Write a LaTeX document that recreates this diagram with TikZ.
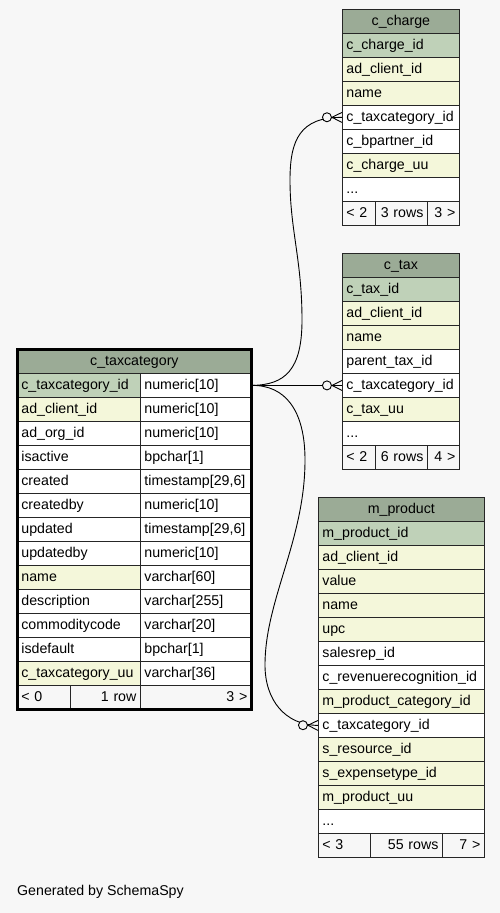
\documentclass[tikz,border=0pt]{standalone}
\usepackage{fontspec}
\setmainfont{Liberation Sans}
\usetikzlibrary{positioning, decorations.markings}

\definecolor{bg}{HTML}{F7F7F7}
\definecolor{hdr}{HTML}{9BAB96}
\definecolor{pk}{HTML}{BFD1B8}
\definecolor{ix}{HTML}{F4F7DA}
\colorlet{pl}{white}

\tikzset{
  cell/.style={draw=black!85, line width=0.8pt, anchor=north west,
    minimum height=24pt, inner xsep=4pt, inner ysep=0pt,
    text height=11pt, text depth=2pt, align=left,
    font=\fontsize{14.2}{16}\selectfont},
  head/.style={cell, fill=hdr, align=center},
  foot/.style={cell, fill=bg},
  fk/.style={draw=black, line width=0.9pt, postaction={decorate},
    decoration={markings, mark=at position -0.05pt with {
      \draw[line width=0.9pt] (0,5) -- (-10,0) -- (0,-5);
      \draw[line width=0.9pt, fill=bg] (-15,0) circle (4.5pt);
    }}}
}

\begin{document}
\begin{tikzpicture}[x=1pt, y=-1pt]
  \fill[bg] (0,0) rectangle (500,913);
  \useasboundingbox (0,0) rectangle (500,913);

  % c_charge
  \node[head, text width=109pt] (chg-hd) at (342,9) {c\_charge};
  \foreach \t/\c [count=\i] in {c\_charge\_id/pk, ad\_client\_id/ix, name/ix,
      c\_taxcategory\_id/pl, c\_bpartner\_id/pl, c\_charge\_uu/ix}
    \node[cell, fill=\c, text width=109pt] (chg-\i) at (342, 9+24*\i) {\t};
  \node[cell, fill=pl, text width=109pt] (chg-7) at (342,177) {...};
  \node[foot, text width=25pt] (chg-f1) at (342,201) {< 2};
  \node[foot, text width=44pt, align=right] (chg-f2) at (375,201) {3 rows};
  \node[foot, text width=24pt, align=right] (chg-f3) at (427,201) {3 >};

  % c_tax
  \node[head, text width=109pt] (tax-hd) at (342,253) {c\_tax};
  \foreach \t/\c [count=\i] in {c\_tax\_id/pk, ad\_client\_id/ix, name/ix,
      parent\_tax\_id/pl, c\_taxcategory\_id/pl, c\_tax\_uu/ix}
    \node[cell, fill=\c, text width=109pt] (tax-\i) at (342, 253+24*\i) {\t};
  \node[cell, fill=pl, text width=109pt] (tax-7) at (342,421) {...};
  \node[foot, text width=25pt] (tax-f1) at (342,445) {< 2};
  \node[foot, text width=44pt, align=right] (tax-f2) at (375,445) {6 rows};
  \node[foot, text width=24pt, align=right] (tax-f3) at (427,445) {4 >};

  % c_taxcategory
  \node[head, text width=226pt] (cat-hd) at (17,349) {c\_taxcategory};
  \foreach \t/\c/\y [count=\i] in {c\_taxcategory\_id/pk/numeric[10],
      ad\_client\_id/ix/numeric[10], ad\_org\_id/pl/numeric[10],
      isactive/pl/bpchar[1], created/pl/{timestamp[29,6]},
      createdby/pl/numeric[10], updated/pl/{timestamp[29,6]},
      updatedby/pl/numeric[10], name/ix/varchar[60],
      description/pl/varchar[255], commoditycode/pl/varchar[20],
      isdefault/pl/bpchar[1], c\_taxcategory\_uu/ix/varchar[36]}{
    \node[cell, fill=\c, text width=115pt] (cat-\i) at (17, 349+24*\i) {\t};
    \node[cell, fill=pl, text width=103pt] (cat-t\i) at (140, 349+24*\i) {\y};
  }
  \node[foot, text width=45pt] (cat-f1) at (17,685) {< 0};
  \node[foot, text width=62pt, align=right] (cat-f2) at (70,685) {1 row};
  \node[foot, text width=103pt, align=right] (cat-f3) at (140,685) {3 >};
  \draw[line width=3pt] (cat-hd.north west) rectangle (cat-f3.south east);

  % m_product
  \node[head, text width=158pt] (prd-hd) at (318,497) {m\_product};
  \foreach \t/\c [count=\i] in {m\_product\_id/pk, ad\_client\_id/ix, value/ix,
      name/ix, upc/ix, salesrep\_id/pl, c\_revenuerecognition\_id/pl,
      m\_product\_category\_id/ix, c\_taxcategory\_id/pl, s\_resource\_id/ix,
      s\_expensetype\_id/ix, m\_product\_uu/ix}
    \node[cell, fill=\c, text width=158pt] (prd-\i) at (318, 497+24*\i) {\t};
  \node[cell, fill=pl, text width=158pt] (prd-13) at (318,809) {...};
  \node[foot, text width=44pt] (prd-f1) at (318,833) {< 3};
  \node[foot, text width=64pt, align=right] (prd-f2) at (370,833) {55 rows};
  \node[foot, text width=34pt, align=right] (prd-f3) at (442,833) {7 >};

  % relationships
  \draw[fk] (cat-t1.east) .. controls (285,385) and (302,370) .. (302,320)
    .. controls (302,260) and (290,230) .. (290,180)
    .. controls (290,140) and (300,117) .. (chg-4.west);
  \draw[fk] (cat-t1.east) -- (tax-5.west);
  \draw[fk] (cat-t1.east) .. controls (285,385) and (305,410) .. (305,460)
    .. controls (305,540) and (265,600) .. (265,665)
    .. controls (265,700) and (285,725) .. (prd-9.west);

  \node[anchor=west, inner sep=0pt, font=\fontsize{14.2}{16}\selectfont] (gen)
    at (17,892) {Generated by SchemaSpy};
\end{tikzpicture}
\end{document}
